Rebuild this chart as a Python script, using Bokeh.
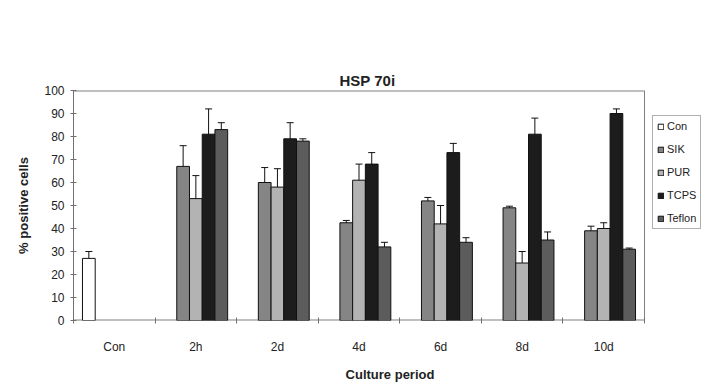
from bokeh.plotting import figure
from bokeh.models import (Range1d, ColumnDataSource, Whisker, TeeHead, Title,
                          Legend, LegendItem, LinearAxis, FixedTicker)
from bokeh.transform import dodge
from bokeh.embed import file_html
from bokeh.resources import INLINE

categories = ["Con", "2h", "2d", "4d", "6d", "8d", "10d"]
series = ["Con", "SIK", "PUR", "TCPS", "Teflon"]

con_vals = [27, None, None, None, None, None, None]
con_err = [3, None, None, None, None, None, None]
sik_vals = [None, 67, 60, 42.5, 52, 49, 39]
sik_err = [None, 9, 6.5, 1, 1.5, 0.7, 2]
pur_vals = [None, 53, 58, 61, 42, 25, 40]
pur_err = [None, 10, 8, 7, 8, 5, 2.5]
tcps_vals = [None, 81, 79, 68, 73, 81, 90]
tcps_err = [None, 11, 7, 5, 4, 7, 2]
teflon_vals = [None, 83, 78, 32, 34, 35, 31]
teflon_err = [None, 3, 1, 2, 2, 3.5, 0.5]

y_ticks = [0, 10, 20, 30, 40, 50, 60, 70, 80, 90, 100]

values = [con_vals, sik_vals, pur_vals, tcps_vals, teflon_vals]
errors = [con_err, sik_err, pur_err, tcps_err, teflon_err]
colors = ["#ffffff", "#858585", "#b3b3b3", "#1c1c1c", "#5c5c5c"]

FONT = "Liberation Sans"
BW = 0.156
offsets = [-2 * BW, -BW, 0, BW, 2 * BW]
n = len(categories)
centers = [i + 0.5 for i in range(n)]
Y_MAX = 100
# frame extends to the right edge so that the legend fits inside it
X_END = n * (706 - 73) / (644 - 73)

p = figure(width=706, height=384, x_range=Range1d(0, X_END),
           y_range=Range1d(0, Y_MAX), output_backend="svg", toolbar_location=None,
           x_axis_location=None, y_axis_location=None,
           min_border_left=73, min_border_right=0, min_border_top=90, min_border_bottom=59)
p.title = None
p.background_fill_color = "white"
p.border_fill_color = "white"
p.outline_line_color = None
p.xgrid.visible = False
p.ygrid.visible = False

# blank spacer between frame and title, then the title further out
spacer = Title(text=" ", standoff=44, text_font_size="13px", text_alpha=0)
p.add_layout(spacer, "above")
title = Title(text="HSP 70i", text_font=FONT, text_font_style="bold", text_font_size="15px",
              text_color="#222222", align="left", offset=266, standoff=4)
p.add_layout(title, "above")

# plot-area border (top and right) and x axis line
p.segment(x0=[0, n, 0], y0=[Y_MAX, 0, 0], x1=[n, n, n], y1=[Y_MAX, Y_MAX, 0],
          line_color="#808080", line_width=[2, 1, 2])

# y axis
ya = LinearAxis(ticker=FixedTicker(ticks=y_ticks), axis_label="% positive cells")
ya.axis_line_color = "#707070"
ya.major_tick_line_color = "#707070"
ya.major_tick_in = 3
ya.major_tick_out = 3
ya.minor_tick_line_color = None
ya.major_label_text_font = FONT
ya.major_label_text_font_size = "12px"
ya.major_label_text_color = "#222222"
ya.major_label_standoff = 6
ya.axis_label_text_font = FONT
ya.axis_label_text_font_style = "bold"
ya.axis_label_text_font_size = "13px"
ya.axis_label_text_color = "#222222"
ya.axis_label_standoff = 10
p.add_layout(ya, "left")

# x axis: labels at category centres, tick marks at category boundaries
xa = LinearAxis(ticker=FixedTicker(ticks=centers, minor_ticks=list(range(n + 1))),
                axis_label="Culture period",
                major_label_overrides={c: lab for c, lab in zip(centers, categories)})
xa.axis_line_color = None
xa.major_tick_line_color = None
xa.major_tick_in = 0
xa.major_tick_out = 0
xa.minor_tick_line_color = "#707070"
xa.minor_tick_in = 3
xa.minor_tick_out = 3
xa.major_label_text_font = FONT
xa.major_label_text_font_size = "12px"
xa.major_label_text_color = "#222222"
xa.major_label_standoff = 16
xa.axis_label_text_font = FONT
xa.axis_label_text_font_style = "bold"
xa.axis_label_text_font_size = "13px"
xa.axis_label_text_color = "#222222"
xa.axis_label_standoff = 10
p.add_layout(xa, "below")

items = []
for name, vals, errs, col, off in zip(series, values, errors, colors, offsets):
    xs = [c for c, v in zip(centers, vals) if v is not None]
    tops = [v for v in vals if v is not None]
    es = [e for e in errs if e is not None]
    src = ColumnDataSource(dict(x=xs, top=tops,
                                upper=[t + e for t, e in zip(tops, es)],
                                lower=[t - e for t, e in zip(tops, es)]))
    r = p.vbar(x=dodge("x", off), top="top", bottom=0, width=BW,
               source=src, fill_color=col, line_color="#111111", line_width=1)
    w = Whisker(source=src, base=dodge("x", off), upper="upper", lower="lower",
                line_color="#111111", line_width=1,
                upper_head=TeeHead(size=7, line_color="#111111", line_width=1),
                lower_head=TeeHead(size=7, line_color="#111111", line_width=1))
    p.add_layout(w)
    items.append(LegendItem(label=name, renderers=[r]))

legend = Legend(items=items, location=(579, 91))
legend.label_text_font = FONT
legend.label_text_font_size = "11px"
legend.label_text_color = "#222222"
legend.glyph_width = 7
legend.glyph_height = 7
legend.label_height = 12
legend.label_standoff = 3
legend.spacing = 11
legend.padding = 4
legend.margin = 0
legend.border_line_color = "#606060"
legend.border_line_width = 1
legend.background_fill_color = "white"
legend.background_fill_alpha = 1
p.add_layout(legend)

open("out.html", "w").write(file_html(p, INLINE))
